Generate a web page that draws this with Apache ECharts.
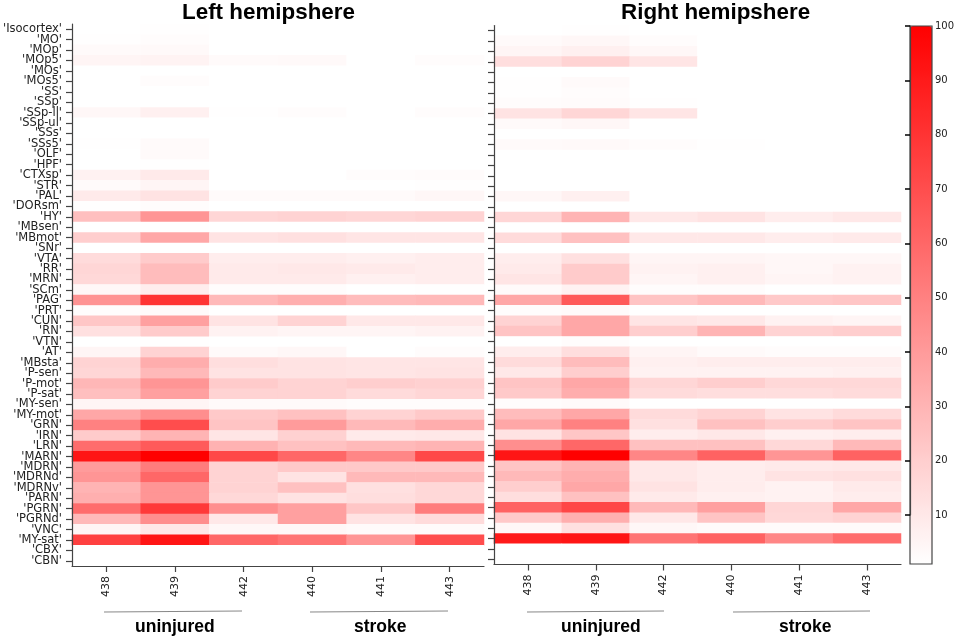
<!DOCTYPE html>
<html>
<head>
<meta charset="utf-8">
<title>Left and right hemisphere heatmap</title>
<script src="https://cdn.jsdelivr.net/npm/echarts@6/dist/echarts.min.js"></script>
<style>
html, body { margin: 0; padding: 0; background: #fff; }
#chart { width: 957px; height: 642px; }
</style>
</head>
<body>
<div id="chart"></div>
<script>
'use strict';

var regions = ["'Isocortex'", "'MO'", "'MOp'", "'MOp5'", "'MOs'", "'MOs5'", "'SS'", "'SSp'", "'SSp-ll'", "'SSp-ul'",
  "'SSs'", "'SSs5'", "'OLF'", "'HPF'", "'CTXsp'", "'STR'", "'PAL'", "'DORsm'", "'HY'", "'MBsen'",
  "'MBmot'", "'SNr'", "'VTA'", "'RR'", "'MRN'", "'SCm'", "'PAG'", "'PRT'", "'CUN'", "'RN'",
  "'VTN'", "'AT'", "'MBsta'", "'P-sen'", "'P-mot'", "'P-sat'", "'MY-sen'", "'MY-mot'", "'GRN'", "'IRN'",
  "'LRN'", "'MARN'", "'MDRN'", "'MDRNd'", "'MDRNv'", "'PARN'", "'PGRN'", "'PGRNd'", "'VNC'", "'MY-sat'",
  "'CBX'", "'CBN'"];

var animals = ['438', '439', '442', '440', '441', '443'];

// one row per region, columns in the order of animals
var leftValues = [
  [1, 1.5, 1, 1, 1, 1], [1.5, 2, 1, 1, 1, 1], [3, 3.5, 1, 1, 1, 1], [5, 5.5, 3, 3.5, 1, 2],
  [1, 1, 1, 1, 1, 1], [1, 2, 1, 1, 1, 1], [1, 1, 1, 1, 1, 1], [1, 1, 1, 1, 1, 1],
  [4, 7, 1.5, 2, 1, 2], [1, 1, 1, 1, 1, 1], [1, 1, 1, 1, 1, 1], [1.5, 3, 1, 1, 1, 1],
  [1, 3, 1, 1, 1, 1], [1, 1.5, 1, 1, 1, 1], [6, 9, 1, 1, 2, 2.5], [3, 5, 1, 1, 1, 1.5],
  [9, 12, 3, 3, 3, 4], [1.5, 2, 1, 1, 1, 1], [26, 42, 17, 18, 17, 18], [1, 1.5, 1, 1, 1, 1],
  [20, 35, 12, 13, 11, 11], [1, 1, 1, 1, 1, 1], [15, 21, 8, 8, 7, 8], [17, 27, 9, 10, 9, 8],
  [16, 27, 9, 9, 7, 8], [4, 8, 2, 2, 1, 1.5], [43, 80, 28, 32, 27, 28], [2, 3, 1, 1, 1, 1],
  [23, 38, 12, 18, 10, 10], [13, 21, 6, 5, 5, 6], [1, 1.5, 1, 1, 1, 1], [5, 18, 3, 4, 1, 2],
  [18, 33, 14, 12, 11, 11], [17, 28, 12, 12, 11, 12], [29, 42, 21, 18, 20, 19], [26, 38, 18, 18, 15, 17],
  [5, 5, 3, 3, 2, 2], [35, 45, 22, 25, 18, 22], [50, 70, 24, 40, 28, 33], [21, 30, 11, 19, 9, 10],
  [58, 65, 31, 25, 28, 30], [92, 100, 72, 60, 48, 72], [40, 52, 18, 22, 22, 22], [42, 60, 18, 12, 28, 28],
  [30, 42, 18, 25, 13, 16], [32, 42, 16, 12, 14, 16], [58, 78, 45, 38, 23, 52], [28, 45, 10, 38, 12, 15],
  [5, 10, 4, 4, 3, 3], [75, 92, 60, 55, 42, 70], [1, 1, 1, 1, 1, 1], [1, 1, 1, 1, 1, 1]
];

var rightValues = [
  [1, 1.5, 1, 1, 1, 1], [3, 4, 2, 1, 1, 1], [5, 7, 4, 1, 1, 1], [14, 18, 11, 1, 1, 1],
  [1, 1, 1, 1, 1, 1], [1.5, 3, 1, 1, 1, 1], [1.5, 2, 1, 1, 1, 1], [2, 2.5, 1.5, 1, 1, 1],
  [12, 17, 11, 1, 1, 1], [3, 4, 1, 1, 1, 1], [1, 1, 1, 1, 1, 1], [3, 3.5, 2, 1.5, 1, 1],
  [1, 1, 1, 1, 1, 1], [1, 1, 1, 1, 1, 1], [1, 1, 1, 1, 1, 1], [1, 1, 1, 1, 1, 1],
  [4, 7, 1, 1, 1, 1], [1, 1, 1, 1, 1, 1], [17, 30, 10, 12, 8, 10], [1, 1, 1, 1, 1, 1],
  [15, 25, 10, 10, 8, 9], [1, 1, 1, 1, 1, 1], [8, 13, 5, 5, 4, 4], [9, 21, 6, 7, 4, 6],
  [11, 21, 5, 7, 5, 6], [3, 6, 2, 2, 1, 1], [35, 65, 24, 28, 22, 23], [2, 3, 1, 1, 1, 1],
  [18, 35, 11, 10, 6, 5], [24, 35, 20, 30, 18, 20], [1, 2, 1, 1, 1, 1], [8, 14, 5, 3, 2, 2],
  [15, 27, 7, 8, 8, 8], [10, 20, 6, 6, 6, 7], [24, 35, 17, 20, 16, 16], [22, 33, 15, 14, 14, 15],
  [2, 3, 1, 1, 1, 1], [27, 35, 15, 18, 12, 15], [35, 50, 13, 25, 20, 24], [12, 23, 8, 10, 7, 8],
  [45, 60, 25, 25, 16, 28], [92, 100, 48, 62, 42, 62], [24, 30, 10, 8, 9, 10], [28, 33, 10, 8, 12, 13],
  [20, 35, 12, 8, 6, 9], [14, 25, 9, 7, 6, 8], [62, 73, 28, 38, 17, 35], [22, 32, 10, 24, 16, 18],
  [4, 13, 4, 3, 3, 3], [90, 92, 55, 62, 48, 58], [1, 1, 1, 1, 1, 1], [1, 1, 1, 1, 1, 1]
];

function cells(rows) {
  var out = [];
  rows.forEach(function (row, r) {
    row.forEach(function (v, c) { out.push([c, r, v]); });
  });
  return out;
}

var axisColor = '#444';
var labelColor = '#222';
var labelFont = 'DejaVu Sans';

function xAxisFor(index) {
  return {
    type: 'category', gridIndex: index, data: animals, position: 'bottom', z: 5,
    axisLine: { show: true, lineStyle: { color: axisColor, width: 1.2 } },
    axisTick: { show: true, alignWithLabel: true, length: 6, interval: 0, lineStyle: { color: axisColor, width: 1.2 } },
    axisLabel: { rotate: 90, margin: 10, interval: 0, color: labelColor, fontFamily: labelFont, fontSize: 11 },
    splitLine: { show: false }
  };
}

function yAxisFor(index, showLabels) {
  return {
    type: 'category', gridIndex: index, data: regions, inverse: true, z: 5,
    axisLine: { show: true, lineStyle: { color: axisColor, width: 1.2 } },
    axisTick: { show: true, alignWithLabel: true, length: 6, interval: 0, lineStyle: { color: axisColor, width: 1.2 } },
    axisLabel: { show: showLabels, interval: 0, margin: 10, color: labelColor, fontFamily: labelFont, fontSize: 11.5 },
    splitLine: { show: false }
  };
}

function heading(text, x, y, size) {
  return {
    text: text, left: x, top: y, padding: 0,
    textStyle: { fontFamily: 'Liberation Sans', fontWeight: 'bold', fontSize: size, color: '#000' }
  };
}

function groupLine(x1, x2) {
  return {
    type: 'line', silent: true,
    shape: { x1: x1, y1: 612, x2: x2, y2: 611 },
    style: { stroke: '#888', lineWidth: 1.2 }
  };
}

var option = {
  animation: false,
  backgroundColor: '#fff',
  title: [
    heading('Left hemipshere', 182, 2, 22.4),
    heading('Right hemipshere', 621, 2, 22.4),
    heading('uninjured', 135, 618, 17.5),
    heading('stroke', 354, 618, 17.5),
    heading('uninjured', 561, 618, 17.5),
    heading('stroke', 779, 618, 17.5)
  ],
  grid: [
    { left: 71.5, top: 24, width: 412.5, height: 542 },
    { left: 494, top: 25.5, width: 407, height: 539 },
    // frame of the colour bar, then its scale: 10..100 is 90/99 of the bar's 1..100
    { left: 910, top: 26, width: 22, height: 538, show: true, z: 10, borderColor: axisColor, borderWidth: 1.2, backgroundColor: 'transparent' },
    { left: 910, top: 26, width: 22, height: 489.1 }
  ],
  xAxis: [
    xAxisFor(0),
    xAxisFor(1),
    { type: 'value', gridIndex: 2, show: false },
    { type: 'value', gridIndex: 3, show: false }
  ],
  yAxis: [
    yAxisFor(0, true),
    yAxisFor(1, false),
    { type: 'value', gridIndex: 2, show: false },
    {
      type: 'value', gridIndex: 3, position: 'right', min: 10, max: 100, interval: 10, z: 10,
      splitLine: { show: false },
      axisLine: { show: true, lineStyle: { color: axisColor, width: 1.2 } },
      axisTick: { show: true, inside: true, length: 5, lineStyle: { color: '#000', width: 1.5 } },
      axisLabel: { show: true, margin: 5, color: labelColor, fontFamily: labelFont, fontSize: 10 }
    }
  ],
  visualMap: {
    type: 'continuous', min: 1, max: 100, left: 910, top: 26, itemWidth: 22, itemHeight: 538, z: 1,
    padding: 0, text: ['', ''], showLabel: false, calculable: false, realtime: false, hoverLink: false,
    seriesIndex: [0, 1],
    inRange: { color: ['#ffffff', '#ff0000'] },
    textStyle: { color: 'transparent' }
  },
  series: [
    { type: 'heatmap', xAxisIndex: 0, yAxisIndex: 0, data: cells(leftValues), emphasis: { disabled: true } },
    { type: 'heatmap', xAxisIndex: 1, yAxisIndex: 1, data: cells(rightValues), emphasis: { disabled: true } }
  ],
  graphic: [groupLine(104, 242), groupLine(310, 448), groupLine(527, 664), groupLine(733, 870)]
};

var myChart = echarts.init(document.getElementById('chart'));
myChart.setOption(option);
</script>
</body>
</html>
